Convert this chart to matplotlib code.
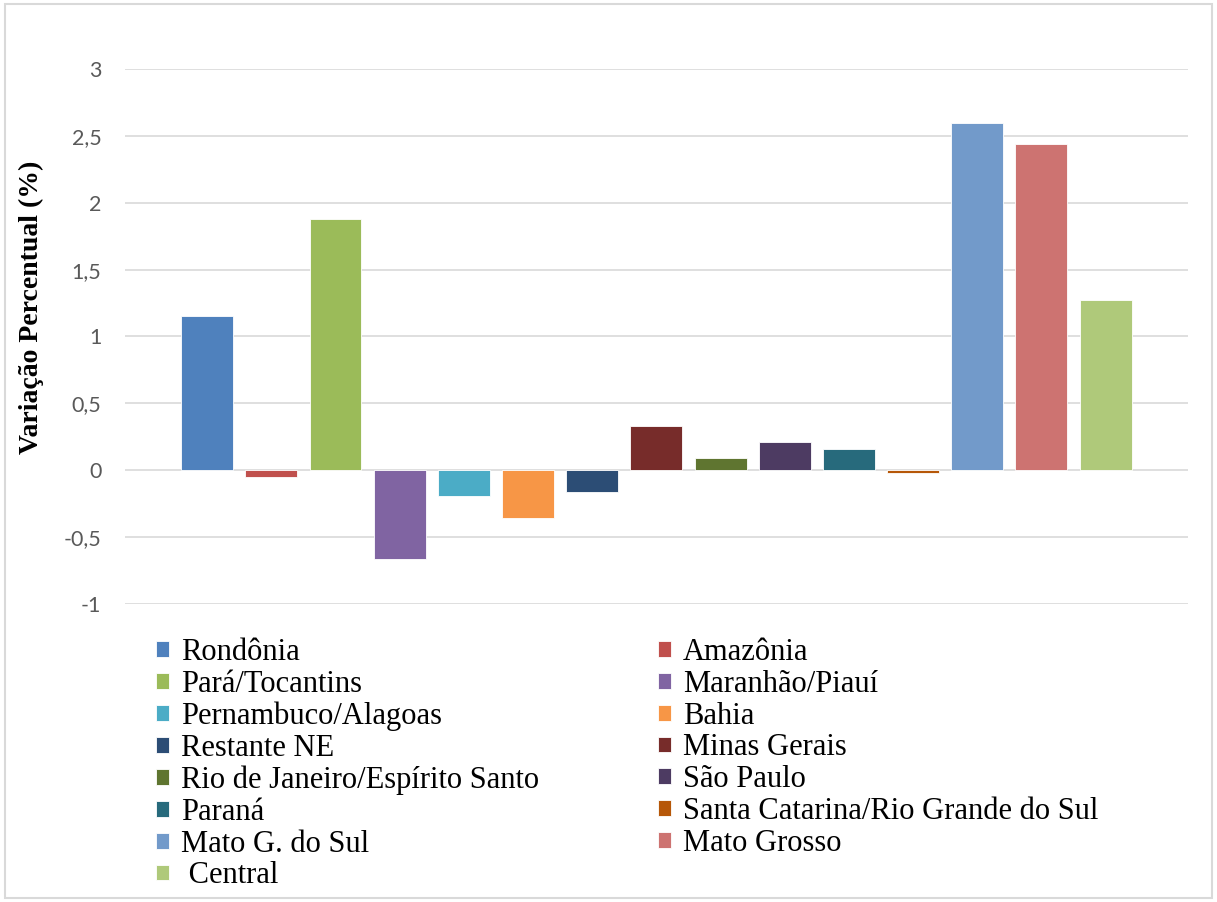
import numpy as np
import matplotlib.pyplot as plt
from matplotlib.ticker import FuncFormatter, MultipleLocator
from matplotlib.patches import Rectangle

regioes = ["Rondônia", "Amazônia", "Pará/Tocantins", "Maranhão/Piauí",
           "Pernambuco/Alagoas", "Bahia", "Restante NE", "Minas Gerais",
           "Rio de Janeiro/Espírito Santo", "São Paulo", "Paraná",
           "Santa Catarina/Rio Grande do Sul", "Mato G. do Sul", "Mato Grosso",
           " Central"]
variacao = [1.15, -0.05, 1.88, -0.66, -0.19, -0.36, -0.16, 0.33,
            0.09, 0.21, 0.16, -0.02, 2.60, 2.44, 1.27]
cores = ["#4F81BD", "#C0504D", "#9BBB59", "#8064A2", "#4BACC6", "#F79646",
         "#2C4D75", "#772C2A", "#5F7530", "#4D3B62", "#276A7C", "#B65708",
         "#729ACA", "#CD7371", "#AFC97A"]

fig = plt.figure(figsize=(12.17, 9.02), dpi=100)
ax = fig.add_axes([0.1027, 0.3304, 0.8733, 0.5931])

x = np.arange(len(regioes))
bars = ax.bar(x, variacao, width=0.81, color=cores, edgecolor="white", linewidth=0.6, zorder=3)

ax.set_ylim(-1, 3)
ax.set_xlim(-1.28, 15.28)
ax.yaxis.set_major_locator(MultipleLocator(0.5))
ax.yaxis.set_major_formatter(FuncFormatter(lambda v, p: ("%g" % v).replace(".", ",")))
ax.grid(axis="y", color="#d9d9d9", linewidth=1.2, zorder=0)
ax.set_xticks([])
ax.tick_params(axis="y", length=0, pad=17, labelsize=15.5, labelcolor="#595959")
for lbl in ax.get_yticklabels():
    lbl.set_family("Lato")
for s in ax.spines.values():
    s.set_visible(False)

fig.text(31 / 1217, 1 - 307 / 902, "Variação Percentual (%)", rotation=90,
         ha="center", va="center", fontsize=20, fontweight="bold",
         family="Liberation Serif")

# legend read row by row in the reference -> reorder for column filling
ordem = list(range(0, 15, 2)) + list(range(1, 15, 2))
leg = ax.legend([bars[i] for i in ordem], [regioes[i] for i in ordem],
                ncol=2, loc="upper left", bbox_to_anchor=(0.128, 0.2925),
                bbox_transform=fig.transFigure, frameon=False,
                prop={"family": "Liberation Serif", "size": 22},
                handlelength=0.42, handleheight=0.42, handletextpad=0.4,
                labelspacing=0.09, columnspacing=3.9, borderaxespad=0,
                borderpad=0)

fig.patches.append(Rectangle((0.004, 0.004), 0.992, 0.992, transform=fig.transFigure,
                             fill=False, edgecolor="#d9d9d9", linewidth=1.5))

fig.savefig("out.png", dpi=100, facecolor="white")
